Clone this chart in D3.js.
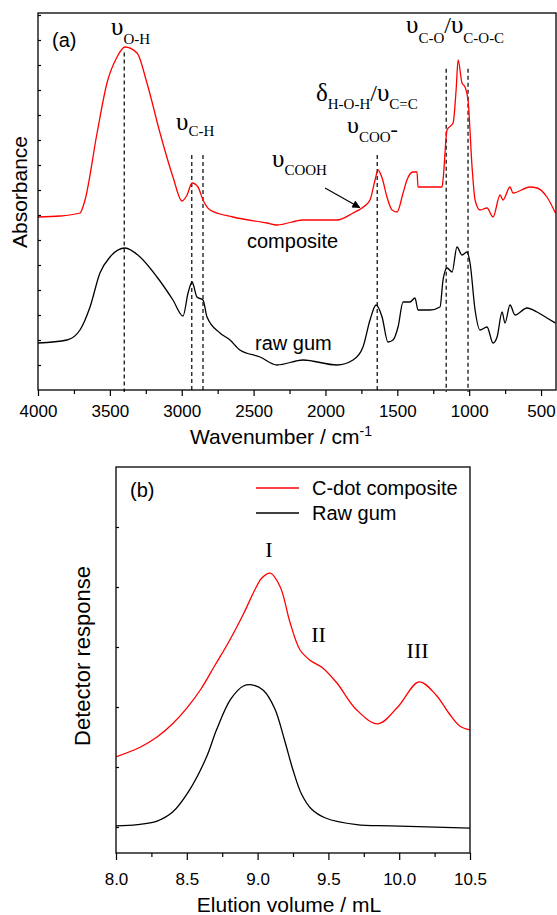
<!DOCTYPE html>
<html>
<head>
<meta charset="utf-8">
<script src="https://cdn.jsdelivr.net/npm/d3@7"></script>
<style>
body { margin: 0; background: #fff; }
text { font-family: "Liberation Sans", Arial, sans-serif; fill: #000; }
text.serif { font-family: "Liberation Serif", "Times New Roman", serif; }
</style>
</head>
<body>
<svg id="chart" width="557" height="915"></svg>
<script>
// ---- panel (a): FTIR spectra, [wavenumber cm-1, absorbance (arb. units)] ----
var compositeIR = [
  [4000, 6.92], [3847, 6.96], [3708, 7.08], [3673, 7.6], [3589, 10.28], [3520, 12.28],
  [3450, 13.32], [3395, 13.72], [3311, 13.48], [3242, 12.28], [3151, 10.28], [3061, 8.52],
  [2998, 7.56], [2963, 7.8], [2928, 8.28], [2887, 8.12], [2852, 7.6], [2803, 7.2],
  [2643, 6.92], [2407, 6.68], [2337, 6.6], [2156, 6.8], [1920, 6.8], [1808, 7.08],
  [1746, 7.28], [1690, 7.6], [1655, 8.4], [1634, 8.8], [1606, 8.48], [1572, 7.72],
  [1537, 7.2], [1502, 7.12], [1460, 7.88], [1433, 8.4], [1391, 8.72], [1363, 8.72],
  [1356, 8.12], [1272, 8.12], [1189, 8.12], [1182, 8.4], [1154, 10.4], [1112, 10.68],
  [1091, 12.0], [1077, 13.2], [1050, 12.28], [1029, 12.12], [1008, 11.6], [980, 8.92],
  [959, 7.6], [925, 7.2], [876, 7.28], [834, 6.92], [785, 7.8], [765, 7.6],
  [716, 8.12], [695, 7.88], [577, 8.12], [528, 8.08], [459, 7.72], [400, 7.08]
];
var rawGumIR = [
  [4000, 1.88], [3798, 2.0], [3708, 2.4], [3638, 3.32], [3569, 4.68], [3499, 5.32],
  [3395, 5.68], [3290, 5.32], [3172, 4.52], [3061, 3.6], [2991, 2.96], [2956, 3.88],
  [2928, 4.32], [2894, 3.72], [2852, 3.6], [2824, 2.92], [2734, 2.28], [2664, 2.0],
  [2595, 1.6], [2455, 1.32], [2337, 1.0], [2156, 1.2], [1920, 1.0], [1808, 1.2],
  [1739, 1.72], [1690, 2.8], [1648, 3.4], [1606, 2.92], [1565, 1.92], [1530, 2.0],
  [1495, 2.52], [1460, 3.52], [1412, 3.52], [1377, 3.68], [1356, 3.2], [1272, 3.2],
  [1203, 3.32], [1182, 4.4], [1154, 4.88], [1119, 4.72], [1085, 5.72], [1050, 5.4],
  [1015, 5.52], [994, 5.08], [959, 3.2], [925, 2.4], [876, 2.52], [834, 1.88],
  [806, 2.12], [771, 3.12], [751, 2.68], [716, 3.4], [681, 3.0], [598, 3.28],
  [528, 3.12], [459, 2.88], [400, 2.68]
];
// band markers (dashed lines): position and top end
var bandPos = [3400, 2930, 2852, 1640, 1160, 1008];
var bandTop = [13.5, 9.4, 9.4, 9.4, 12.85, 12.85];
var irTicks = [4000, 3500, 3000, 2500, 2000, 1500, 1000, 500];
var irMinor = [3750, 3250, 2750, 2250, 1750, 1250, 750];

// ---- panel (b): GPC traces, [elution volume mL, detector response (arb.)] ----
var compositeGPC = [
  [8.0, 1.17], [8.17, 1.33], [8.29, 1.5], [8.40, 1.72], [8.5, 1.98], [8.6, 2.3],
  [8.7, 2.7], [8.8, 3.1], [8.9, 3.55], [8.98, 3.95], [9.03, 4.15], [9.09, 4.23],
  [9.16, 4.0], [9.23, 3.4], [9.30, 2.95], [9.37, 2.78], [9.46, 2.65], [9.56, 2.4],
  [9.70, 1.95], [9.85, 1.72], [9.99, 2.0], [10.14, 2.42], [10.26, 2.2], [10.35, 1.9],
  [10.43, 1.68], [10.5, 1.62]
];
var rawGumGPC = [
  [8.0, 0.02], [8.15, 0.04], [8.29, 0.1], [8.40, 0.25], [8.52, 0.62], [8.64, 1.17], [8.71, 1.62],
  [8.81, 2.13], [8.90, 2.35], [8.96, 2.37], [9.04, 2.28], [9.12, 1.98], [9.19, 1.45],
  [9.25, 0.95], [9.31, 0.55], [9.38, 0.3], [9.48, 0.15], [9.70, 0.04], [9.94, 0.02], [10.5, -0.02]
];
var gpcTicks = [8.0, 8.5, 9.0, 9.5, 10.0, 10.5];
var gpcMinor = [8.25, 8.75, 9.25, 9.75, 10.25];
var gpcPeaks = ["I", "II", "III"];
var gpcPeakX = [9.08, 9.43, 10.13];
var gpcPeakY = [4.5, 3.08, 2.82];

var svg = d3.select("#chart");

// ================= panel (a) =================
var a = { left: 38, right: 556, top: 13, bottom: 390 };
var xIR = d3.scaleLinear().domain([4000, 396]).range([a.left, a.right]);
var yIR = d3.scaleLinear().domain([0, 15.08]).range([a.bottom, a.top]);

var gA = svg.append("g");

// dashed band lines
gA.selectAll("line.band")
  .data(bandPos)
  .enter().append("line")
    .attr("class", "band")
    .attr("x1", function(d) { return xIR(d); })
    .attr("x2", function(d) { return xIR(d); })
    .attr("y1", function(d, i) { return yIR(bandTop[i]); })
    .attr("y2", a.bottom + 2)
    .attr("stroke", "#000")
    .attr("stroke-width", 1.2)
    .attr("stroke-dasharray", "4,3");

var lineIR = d3.line()
  .x(function(d) { return xIR(d[0]); })
  .y(function(d) { return yIR(d[1]); })
  .curve(d3.curveMonotoneX);

gA.append("path").datum(compositeIR)
  .attr("d", lineIR).attr("fill", "none").attr("stroke", "#ff0000").attr("stroke-width", 1.3);
gA.append("path").datum(rawGumIR)
  .attr("d", lineIR).attr("fill", "none").attr("stroke", "#000").attr("stroke-width", 1.3);

// axes
gA.append("g")
  .attr("transform", "translate(0," + a.bottom + ")")
  .call(d3.axisBottom(xIR).tickValues(irMinor).tickSize(4).tickFormat(""))
  .call(function(g) { g.select(".domain").remove(); });
gA.append("g")
  .attr("transform", "translate(0," + a.bottom + ")")
  .call(d3.axisBottom(xIR).tickValues(irTicks).tickSize(6).tickPadding(9).tickFormat(d3.format("d")))
  .call(function(g) {
    g.select(".domain").remove();
    g.selectAll("text").style("font-size", "17px").attr("font-family", null);
  });
gA.append("g")
  .attr("transform", "translate(" + a.left + ",0)")
  .call(d3.axisRight(yIR).tickValues(d3.range(1, 16)).tickSize(3).tickFormat(""))
  .call(function(g) { g.select(".domain").remove(); });
gA.selectAll(".tick line").attr("stroke", "#000").attr("stroke-width", 1.2);

gA.append("rect")
  .attr("x", a.left).attr("y", a.top)
  .attr("width", a.right - a.left).attr("height", a.bottom - a.top)
  .attr("fill", "none").attr("stroke", "#000").attr("stroke-width", 1.3);

// axis titles
var xt = gA.append("text").attr("x", 190).attr("y", 444).style("font-size", "21px");
xt.append("tspan").text("Wavenumber / cm");
xt.append("tspan").text("-1").attr("dy", -8).style("font-size", "14px");
gA.append("text")
  .attr("transform", "translate(27,192) rotate(-90)")
  .attr("text-anchor", "middle")
  .style("font-size", "21px")
  .text("Absorbance");

gA.append("text").attr("x", 52).attr("y", 47).style("font-size", "20px").text("(a)");
gA.append("text").attr("x", 247).attr("y", 248).style("font-size", "20px").text("composite");
gA.append("text").attr("x", 255).attr("y", 350).style("font-size", "20px").text("raw gum");

// greek band labels: each part is [text, font size, dy]
function bandLabel(x, y, parts) {
  var t = gA.append("text").attr("class", "serif").attr("x", x).attr("y", y);
  parts.forEach(function(p) {
    t.append("tspan").text(p[0]).style("font-size", p[1] + "px").attr("dy", p[2]);
  });
}
bandLabel(111, 35, [["\u03c5", 25, 0], ["O-H", 15, 9]]);
bandLabel(176, 130, [["\u03c5", 25, 0], ["C-H", 15, 6]]);
bandLabel(406, 33, [["\u03c5", 25, 0], ["C-O", 15, 10], ["/", 24, -10], ["\u03c5", 25, 0], ["C-O-C", 15, 10]]);
bandLabel(316, 101, [["\u03b4", 25, 0], ["H-O-H", 15, 8], ["/", 24, -8], ["\u03c5", 25, 0], ["C=C", 15, 8]]);
bandLabel(347, 133, [["\u03c5", 24, 0], ["COO", 15, 9], ["-", 22, -6]]);
bandLabel(272, 167, [["\u03c5", 25, 0], ["COOH", 15, 8]]);

// arrow pointing to the COOH shoulder
var arrowFrom = [2003, 8.08], arrowTo = [1762, 7.3];
svg.append("defs").append("marker")
    .attr("id", "head").attr("viewBox", "0 0 10 10")
    .attr("refX", 9).attr("refY", 5)
    .attr("markerWidth", 11).attr("markerHeight", 8)
    .attr("markerUnits", "userSpaceOnUse")
    .attr("orient", "auto")
  .append("path").attr("d", "M0,0L10,5L0,10z").attr("fill", "#000");
gA.append("line")
  .attr("x1", xIR(arrowFrom[0])).attr("y1", yIR(arrowFrom[1]))
  .attr("x2", xIR(arrowTo[0])).attr("y2", yIR(arrowTo[1]))
  .attr("stroke", "#000").attr("stroke-width", 1.2)
  .attr("marker-end", "url(#head)");

// ================= panel (b) =================
var b = { left: 116, right: 470, top: 467, bottom: 853 };
var xG = d3.scaleLinear().domain([8.0, 10.5]).range([b.left, b.right]);
var yG = d3.scaleLinear().domain([-0.433, 6]).range([b.bottom, b.top]);

var gB = svg.append("g");

var lineG = d3.line()
  .x(function(d) { return xG(d[0]); })
  .y(function(d) { return yG(d[1]); })
  .curve(d3.curveCatmullRom.alpha(0.5));

gB.append("path").datum(compositeGPC)
  .attr("d", lineG).attr("fill", "none").attr("stroke", "#ff0000").attr("stroke-width", 1.3);
gB.append("path").datum(rawGumGPC)
  .attr("d", lineG).attr("fill", "none").attr("stroke", "#000").attr("stroke-width", 1.3);

gB.append("g")
  .attr("transform", "translate(0," + b.bottom + ")")
  .call(d3.axisBottom(xG).tickValues(gpcMinor).tickSize(4).tickFormat(""))
  .call(function(g) { g.select(".domain").remove(); });
gB.append("g")
  .attr("transform", "translate(0," + b.bottom + ")")
  .call(d3.axisBottom(xG).tickValues(gpcTicks).tickSize(7).tickPadding(13).tickFormat(d3.format(".1f")))
  .call(function(g) {
    g.select(".domain").remove();
    g.selectAll("text").style("font-size", "17px").attr("font-family", null);
  });
gB.append("g")
  .attr("transform", "translate(" + b.left + ",0)")
  .call(d3.axisRight(yG).tickValues(d3.range(0, 6)).tickSize(3).tickFormat(""))
  .call(function(g) { g.select(".domain").remove(); });
gB.selectAll(".tick line").attr("stroke", "#000").attr("stroke-width", 1.2);

gB.append("rect")
  .attr("x", b.left).attr("y", b.top)
  .attr("width", b.right - b.left).attr("height", b.bottom - b.top)
  .attr("fill", "none").attr("stroke", "#000").attr("stroke-width", 1.3);

gB.append("text")
  .attr("x", (b.left + b.right) / 2 - 4).attr("y", 912)
  .attr("text-anchor", "middle").style("font-size", "21px")
  .text("Elution volume / mL");
gB.append("text")
  .attr("transform", "translate(90,656) rotate(-90)")
  .attr("text-anchor", "middle").style("font-size", "22px")
  .text("Detector response");

gB.append("text").attr("x", 130).attr("y", 497).style("font-size", "20px").text("(b)");

// legend
var legendNames = ["C-dot composite", "Raw gum"];
var legendColors = ["#ff0000", "#000"];
var leg = gB.selectAll("g.legend").data(legendNames).enter().append("g")
  .attr("class", "legend")
  .attr("transform", function(d, i) { return "translate(256," + (488 + i * 25) + ")"; });
leg.append("line").attr("x1", 0).attr("x2", 43).attr("y1", 0).attr("y2", 0)
  .attr("stroke", function(d, i) { return legendColors[i]; }).attr("stroke-width", 1.3);
leg.append("text").attr("x", 56).attr("y", 7).style("font-size", "20px").text(function(d) { return d; });

// peak numerals
gB.selectAll("text.peak").data(gpcPeaks).enter().append("text")
  .attr("class", "serif")
  .attr("x", function(d, i) { return xG(gpcPeakX[i]); })
  .attr("y", function(d, i) { return yG(gpcPeakY[i]); })
  .attr("text-anchor", "middle")
  .style("font-size", "22px")
  .text(function(d) { return d; });
</script>
</body>
</html>
